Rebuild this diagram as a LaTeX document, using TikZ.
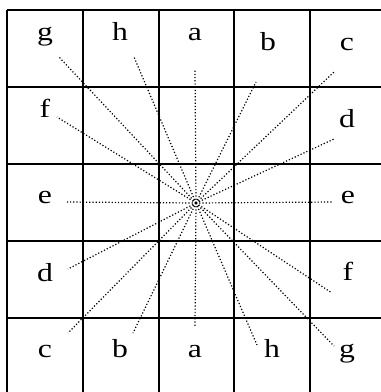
\documentclass[tikz,border=0pt]{standalone}
\usepackage{fontspec}
\setmainfont{Liberation Serif}
\newfontfamily\labfont[FakeStretch=1.22]{Liberation Serif}
\usetikzlibrary{positioning}

\begin{document}
\begin{tikzpicture}[x=1pt, y=-1pt, line width=2pt,
    lab/.style={anchor=base, inner sep=0pt, font=\labfont\fontsize{26}{30}\selectfont},
    ray/.style={line width=1.2pt, dotted}]
        \clip (0,0) rectangle (381,392);

        % grid
        \foreach \x in {7,83,159,234,310}
            \draw (\x,10) -- (\x,392);
        \foreach \y in {10,87,164,241,318}
            \draw (7,\y) -- (381,\y);

        % letters round the border
        \node[lab] (tg) at (45,40) {g};
        \node[lab] (th) at (120,40) {h};
        \node[lab] (ta) at (195,40) {a};
        \node[lab] (tb) at (268,50) {b};
        \node[lab] (tc) at (347,50) {c};
        \node[lab] (lf) at (45,117) {f};
        \node[lab] (rd) at (347,127) {d};
        \node[lab] (le) at (45,203) {e};
        \node[lab] (re) at (348,203) {e};
        \node[lab] (ld) at (45,281) {d};
        \node[lab] (rf) at (348,280) {f};
        \node[lab] (bc) at (45,357) {c};
        \node[lab] (bb) at (120,357) {b};
        \node[lab] (ba) at (195,357) {a};
        \node[lab] (bh) at (272,357) {h};
        \node[lab] (bg) at (347,357) {g};

        % rays from the middle
        \coordinate (o) at (196,203);
        \foreach \n/\x/\y in {g1/59/57, h1/134/57, a1/195/69, b1/256/82,
                c1/334/72, f1/57/117, d1/334/139, e1/67/202, e2/332/202,
                d2/68/269, c2/68/333, b2/133/333, a2/195/327, h2/257/345,
                f2/332/293, g2/334/346}
        {
            \coordinate (\n) at (\x,\y);
            \draw[ray] (o) -- (\n);
        }
    \end{tikzpicture}
\end{document}
